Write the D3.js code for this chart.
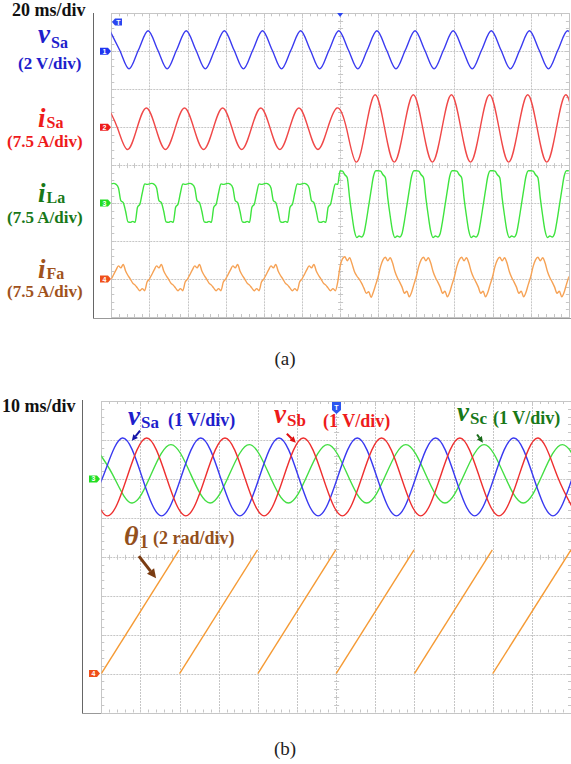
<!DOCTYPE html>
<html>
<head>
<meta charset="utf-8">
<script src="https://cdn.jsdelivr.net/npm/d3@7"></script>
<style>
  html, body { margin: 0; padding: 0; background: #fff; }
  svg { display: block; }
</style>
</head>
<body>
<svg id="chart" width="571" height="764"></svg>
<script>
(function () {
  'use strict';

  // ── Panel (a): 20 ms/div, 12 divisions = 240 ms ──────────────────────────
  // values in physical units
  const vSaA = [   // V, every 5 ms from t = -0.7 ms (peak / zero / trough / zero)
    1.08, 0.08, -0.93, 0.08,  1.08, 0.08, -0.93, 0.08,  1.08, 0.08, -0.93, 0.08,
    1.08, 0.08, -0.93, 0.08,  1.08, 0.08, -0.93, 0.08,  1.08, 0.08, -0.93, 0.08,
    1.08, 0.08, -0.93, 0.08,  1.08, 0.08, -0.93, 0.08,  1.08, 0.08, -0.93, 0.08,
    1.08, 0.08, -0.93, 0.08,  1.08, 0.08, -0.93, 0.08,  1.08, 0.08, -0.93, 0.08,
    1.08, 0.08
  ];
  const iSaA = [   // A, every 5 ms from t = -1.6 ms
    3.8, -0.3, -4.4, -0.3,  3.8, -0.3, -4.4, -0.3,  3.8, -0.3, -4.4, -0.3,
    3.8, -0.3, -4.4, -0.3,  3.8, -0.3, -4.4, -0.3,  3.8, -0.3, -4.4, -0.3,
    3.8,
    -0.3, -6.9, -0.3, 6.4,  -0.3, -6.9, -0.3, 6.4,  -0.3, -6.9, -0.3, 6.4,
    -0.3, -6.9, -0.3, 6.4,  -0.3, -6.9, -0.3, 6.4,  -0.3, -6.9, -0.3, 6.4,
    -0.3
  ];
  const iLaA = [   // A, every 1.25 ms from t = 0
    3.8, 3.9, 3.7, 3.0, 0.5, 0.1, -1.6, -3.7, -3.8, -3.6, -3.8, -0.8, -0.2, 2.0, 3.8, 3.7,
    3.8, 3.9, 3.7, 3.0, 0.5, 0.1, -1.6, -3.7, -3.8, -3.6, -3.8, -0.8, -0.2, 2.0, 3.8, 3.7,
    3.8, 3.9, 3.7, 3.0, 0.5, 0.1, -1.6, -3.7, -3.8, -3.6, -3.8, -0.8, -0.2, 2.0, 3.8, 3.7,
    3.8, 3.9, 3.7, 3.0, 0.5, 0.1, -1.6, -3.7, -3.8, -3.6, -3.8, -0.8, -0.2, 2.0, 3.8, 3.7,
    3.8, 3.9, 3.7, 3.0, 0.5, 0.1, -1.6, -3.7, -3.8, -3.6, -3.8, -0.8, -0.2, 2.0, 3.8, 3.7,
    3.8, 3.9, 3.7, 3.0, 0.5, 0.1, -1.6, -3.7, -3.8, -3.6, -3.8, -0.8, -0.2, 2.0, 3.8, 3.7,
    6.4, 6.3, 5.6, 5.0, 1.0, -2.5, -5.5, -6.8, -6.5, -6.7, -6.0, -3.5, -0.5, 2.5, 5.3, 6.4,
    6.4, 6.3, 5.6, 5.0, 1.0, -2.5, -5.5, -6.8, -6.5, -6.7, -6.0, -3.5, -0.5, 2.5, 5.3, 6.4,
    6.4, 6.3, 5.6, 5.0, 1.0, -2.5, -5.5, -6.8, -6.5, -6.7, -6.0, -3.5, -0.5, 2.5, 5.3, 6.4,
    6.4, 6.3, 5.6, 5.0, 1.0, -2.5, -5.5, -6.8, -6.5, -6.7, -6.0, -3.5, -0.5, 2.5, 5.3, 6.4,
    6.4, 6.3, 5.6, 5.0, 1.0, -2.5, -5.5, -6.8, -6.5, -6.7, -6.0, -3.5, -0.5, 2.5, 5.3, 6.4,
    6.4, 6.3, 5.6, 5.0, 1.0, -2.5, -5.5, -6.8, -6.5, -6.7, -6.0, -3.5, -0.5, 2.5, 5.3, 6.4,
    6.4
  ];
  const iFaA = [   // A, every 1.25 ms from t = 0
    0.0, 0.9, 1.8, 2.6, 2.2, 2.9, 1.6, 0.7, 0.0, -0.8, -1.2, -1.8, -2.3, -1.9, -2.3, -0.6,
    0.0, 0.9, 1.8, 2.6, 2.2, 2.9, 1.6, 0.7, 0.0, -0.8, -1.2, -1.8, -2.3, -1.9, -2.3, -0.6,
    0.0, 0.9, 1.8, 2.6, 2.2, 2.9, 1.6, 0.7, 0.0, -0.8, -1.2, -1.8, -2.3, -1.9, -2.3, -0.6,
    0.0, 0.9, 1.8, 2.6, 2.2, 2.9, 1.6, 0.7, 0.0, -0.8, -1.2, -1.8, -2.3, -1.9, -2.3, -0.6,
    0.0, 0.9, 1.8, 2.6, 2.2, 2.9, 1.6, 0.7, 0.0, -0.8, -1.2, -1.8, -2.3, -1.9, -2.3, -0.6,
    0.0, 0.9, 1.8, 2.6, 2.2, 2.9, 1.6, 0.7, 0.0, -0.8, -1.2, -1.8, -2.3, -1.9, -2.3, -0.6,
    2.5, 4.0, 4.4, 3.6, 4.2, 3.0, 1.5, 0.6, 0.0, -0.8, -1.8, -2.8, -2.5, -3.6, -2.5, -1.0,
    0.5, 2.5, 3.8, 4.3, 3.6, 4.2, 3.2, 1.5, 0.3, -0.6, -1.6, -2.8, -2.4, -3.5, -2.6, -1.0,
    0.5, 2.5, 3.8, 4.3, 3.6, 4.2, 3.2, 1.5, 0.3, -0.6, -1.6, -2.8, -2.4, -3.5, -2.6, -1.0,
    0.5, 2.5, 3.8, 4.3, 3.6, 4.2, 3.2, 1.5, 0.3, -0.6, -1.6, -2.8, -2.4, -3.5, -2.6, -1.0,
    0.5, 2.5, 3.8, 4.3, 3.6, 4.2, 3.2, 1.5, 0.3, -0.6, -1.6, -2.8, -2.4, -3.5, -2.6, -1.0,
    0.5, 2.5, 3.8, 4.3, 3.6, 4.2, 3.2, 1.5, 0.3, -0.6, -1.6, -2.8, -2.4, -3.5, -2.6, -1.0,
    0.5
  ];

  // ── Panel (b): 10 ms/div, 12 divisions = 120 ms ──────────────────────────
  const vSaB = [   // V, every 5 ms from t = -4.6 ms
    -0.95, 0.05, 1.05, 0.05,  -0.95, 0.05, 1.05, 0.05,  -0.95, 0.05, 1.05, 0.05,
    -0.95, 0.05, 1.05, 0.05,  -0.95, 0.05, 1.05, 0.05,  -0.95, 0.05, 1.05, 0.05,
    -0.95, 0.05
  ];
  const vSbB = [   // V, every 5 ms from t = -3.4 ms
    0.05, -0.95, 0.05, 1.05,  0.05, -0.95, 0.05, 1.05,  0.05, -0.95, 0.05, 1.05,
    0.05, -0.95, 0.05, 1.05,  0.05, -0.95, 0.05, 1.05,  0.05, -0.95, 0.05, 1.05,
    0.05, -0.95
  ];
  const vScB = [   // V, every 5 ms from t = -2.2 ms
    0.88, 0.13, -0.62, 0.13,  0.88, 0.13, -0.62, 0.13,  0.88, 0.13, -0.62, 0.13,
    0.88, 0.13, -0.62, 0.13,  0.88, 0.13, -0.62, 0.13,  0.88, 0.13, -0.62, 0.13,
    0.88, 0.13
  ];
  // θ1 ramps: start / end of each ramp (ms, rad)
  const thetaT = [0, 19.9, 20, 39.9, 40, 59.9, 60, 79.9, 80, 99.9, 100, 120];
  const thetaV = [0, 6.35, 0, 6.35, 0, 6.35, 0, 6.35, 0, 6.35, 0, 6.35];

  // ── Styling ──────────────────────────────────────────────────────────────
  const FONT = '"Liberation Serif", "Times New Roman", serif';
  const GRID = '#c6c6c6';
  const svg = d3.select('#chart');
  const px = v => Math.round(v) + 0.5;

  // ── Graticule ────────────────────────────────────────────────────────────
  function graticule(g, gx, gy, nx, ny) {
    const [x0, x1] = gx.range(), [y0, y1] = gy.range();
    g.append('g').selectAll('line').data(d3.range(1, nx)).join('line')
      .attr('x1', d => px(gx(d))).attr('x2', d => px(gx(d)))
      .attr('y1', y0).attr('y2', y1)
      .attr('stroke', GRID).attr('stroke-dasharray', '2,1');
    g.append('g').selectAll('line').data(d3.range(1, ny)).join('line')
      .attr('y1', d => px(gy(d))).attr('y2', d => px(gy(d)))
      .attr('x1', x0).attr('x2', x1)
      .attr('stroke', GRID).attr('stroke-dasharray', '2,1');
    g.append('rect')
      .attr('x', px(x0)).attr('y', px(y0))
      .attr('width', Math.round(x1) - Math.round(x0)).attr('height', Math.round(y1) - Math.round(y0))
      .attr('fill', 'none').attr('stroke', GRID);

    // minor ticks every 1/5 div on the border and the centre cross
    const mx = d3.range(1, nx * 5).map(i => i / 5);
    const my = d3.range(1, ny * 5).map(i => i / 5);
    const xc = gx(nx / 2), yc = gy(ny / 2);
    const tk = g.append('g').attr('stroke', GRID);
    mx.forEach(d => {
      const x = px(gx(d));
      tk.append('line').attr('x1', x).attr('x2', x).attr('y1', y0).attr('y2', y0 + 3);
      tk.append('line').attr('x1', x).attr('x2', x).attr('y1', y1 - 3).attr('y2', y1);
      tk.append('line').attr('x1', x).attr('x2', x).attr('y1', yc - 2).attr('y2', yc + 3);
    });
    my.forEach(d => {
      const y = px(gy(d));
      tk.append('line').attr('y1', y).attr('y2', y).attr('x1', x0).attr('x2', x0 + 3);
      tk.append('line').attr('y1', y).attr('y2', y).attr('x1', x1 - 3).attr('x2', x1);
      tk.append('line').attr('y1', y).attr('y2', y).attr('x1', xc - 2).attr('x2', xc + 3);
    });
  }

  function frame(x, yTop, yBot) {
    svg.append('line').attr('x1', px(x)).attr('x2', px(x)).attr('y1', yTop).attr('y2', yBot + 1)
      .attr('stroke', '#666');
    svg.append('line').attr('x1', x).attr('x2', 571).attr('y1', px(yBot)).attr('y2', px(yBot))
      .attr('stroke', '#999');
  }

  function clipFor(id, gx, gy) {
    const [x0, x1] = gx.range(), [y0, y1] = gy.range();
    svg.append('clipPath').attr('id', id).append('rect')
      .attr('x', x0).attr('y', y0).attr('width', x1 - x0).attr('height', y1 - y0);
    return svg.append('g').attr('clip-path', `url(#${id})`);
  }

  function trace(g, tx, gy, tr) {
    const pts = tr.values.map((v, i) => [tr.t0 + i * tr.dt, v]);
    const line = d3.line()
      .x(d => tx(d[0]))
      .y(d => gy(tr.ch - d[1] / tr.perDiv))
      .curve(tr.curve);
    g.append('path').datum(pts).attr('d', line)
      .attr('fill', 'none').attr('stroke', tr.color)
      .attr('stroke-width', tr.width || 1.4).attr('stroke-linejoin', 'round');
  }

  // ── Channel / trigger tags ───────────────────────────────────────────────
  function chTag(xr, yc, color, label) {
    svg.append('path')
      .attr('d', `M${xr - 11},${yc - 3.5}H${xr - 3}L${xr},${yc}L${xr - 3},${yc + 3.5}H${xr - 11}Z`)
      .attr('fill', color);
    svg.append('text').attr('x', xr - 6.5).attr('y', yc + 2.6).attr('text-anchor', 'middle')
      .attr('fill', '#fff').style('font', 'bold 7px Arial, "Liberation Sans", sans-serif').text(label);
  }
  function trigLeft(x, yc) {
    svg.append('path').attr('d', `M${x},${yc}L${x + 3},${yc - 3.5}H${x + 10}V${yc + 3.5}H${x + 3}Z`)
      .attr('fill', '#2b45f0');
    svg.append('text').attr('x', x + 6.5).attr('y', yc + 2.5).attr('text-anchor', 'middle')
      .attr('fill', '#fff').style('font', 'bold 7px "Liberation Sans", sans-serif').text('T');
  }
  function trigDown(xc, yTop) {
    svg.append('path')
      .attr('d', `M${xc - 4.5},${yTop}H${xc + 4.5}V${yTop + 8}L${xc},${yTop + 12}L${xc - 4.5},${yTop + 8}Z`)
      .attr('fill', '#2b55f0');
    svg.append('text').attr('x', xc).attr('y', yTop + 8).attr('text-anchor', 'middle')
      .attr('fill', '#fff').style('font', 'bold 7px "Liberation Sans", sans-serif').text('T');
  }

  // ── Text helpers ─────────────────────────────────────────────────────────
  function text(x, y, str, color, size) {
    return svg.append('text').attr('x', x).attr('y', y).attr('fill', color)
      .style('font-family', FONT).style('font-weight', 'bold').style('font-size', size + 'px')
      .text(str);
  }
  function symbol(x, y, main, sub, color, o) {
    const t = svg.append('text').attr('x', x).attr('y', y).attr('fill', color)
      .style('font-family', FONT).style('font-weight', 'bold');
    t.append('tspan').text(main).style('font-style', 'italic').style('font-size', o.main + 'px');
    t.append('tspan').text(sub).attr('dx', o.dx || 1).attr('dy', o.dy)
      .style('font-size', o.sub + 'px');
  }
  function arrow(x1, y1, x2, y2, color, w, head) {
    const a = Math.atan2(y2 - y1, x2 - x1);
    const bx = x2 - head * Math.cos(a), by = y2 - head * Math.sin(a);
    const nx = -Math.sin(a) * head * 0.5, ny = Math.cos(a) * head * 0.5;
    svg.append('line').attr('x1', x1).attr('y1', y1).attr('x2', bx).attr('y2', by)
      .attr('stroke', color).attr('stroke-width', w);
    svg.append('path').attr('d', `M${x2},${y2}L${bx + nx},${by + ny}L${bx - nx},${by - ny}Z`)
      .attr('fill', color);
  }

  // ══ Panel (a) ════════════════════════════════════════════════════════════
  const txA = d3.scaleLinear().domain([0, 240]).range([111.3, 568.9]);
  const gxA = d3.scaleLinear().domain([0, 12]).range([111.3, 568.9]);
  const gyA = d3.scaleLinear().domain([0, 8]).range([13.3, 317]);

  frame(93, 13, 318);
  graticule(svg.append('g'), gxA, gyA, 12, 8);
  const plotA = clipFor('clipA', gxA, gyA);
  [
    { values: vSaA, t0: -0.7, dt: 5,    ch: 1, perDiv: 2,   color: '#3b3bf0', curve: d3.curveMonotoneX },
    { values: iSaA, t0: -1.6, dt: 5,    ch: 3, perDiv: 7.5, color: '#f04848', curve: d3.curveNatural },
    { values: iLaA, t0: 0,    dt: 1.25, ch: 5, perDiv: 7.5, color: '#3fe43f', curve: d3.curveMonotoneX },
    { values: iFaA, t0: 0,    dt: 1.25, ch: 7, perDiv: 7.5, color: '#f6a255', curve: d3.curveMonotoneX }
  ].forEach(tr => trace(plotA, txA, gyA, tr));

  chTag(111, gyA(1), '#2036f0', '1');
  chTag(111, gyA(3), '#ee1c1c', '2');
  chTag(111, gyA(5), '#22dd22', '3');
  chTag(111, gyA(7), '#f0501a', '4');
  trigLeft(112, 22);
  svg.append('path').attr('d', `M${gxA(6) - 3},13L${gxA(6) + 3},13L${gxA(6)},17Z`).attr('fill', '#2b45f0');

  text(12, 16, '20 ms/div', '#111', 18);
  symbol(38, 43, 'v', 'Sa', '#1e1ecc', { main: 27, sub: 16, dy: 5 });
  text(18, 69, '(2 V/div)', '#1e1ecc', 17);
  symbol(38, 127, 'i', 'Sa', '#ee1b1b', { main: 27, sub: 16, dy: 1 });
  text(7, 147, '(7.5 A/div)', '#ee1b1b', 17);
  symbol(38, 202, 'i', 'La', '#187818', { main: 27, sub: 16, dy: 1 });
  text(7, 223, '(7.5 A/div)', '#187818', 17);
  symbol(38, 278, 'i', 'Fa', '#a0521c', { main: 27, sub: 16, dy: 1 });
  text(7, 297, '(7.5 A/div)', '#a0521c', 17);

  svg.append('text').attr('x', 285).attr('y', 365).attr('text-anchor', 'middle')
    .style('font', '19px "Liberation Serif", serif').attr('fill', '#222').text('(a)');

  // ══ Panel (b) ════════════════════════════════════════════════════════════
  const txB = d3.scaleLinear().domain([0, 120]).range([101.3, 571]);
  const gxB = d3.scaleLinear().domain([0, 12]).range([101.3, 571]);
  const gyB = d3.scaleLinear().domain([0, 8]).range([401, 712.5]);

  frame(82, 400, 713);
  graticule(svg.append('g'), gxB, gyB, 12, 8);
  const plotB = clipFor('clipB', gxB, gyB);
  [
    { values: vScB, t0: -2.2, dt: 5, ch: 2, perDiv: 1, color: '#44de44', curve: d3.curveNatural },
    { values: vSaB, t0: -4.6, dt: 5, ch: 2, perDiv: 1, color: '#3a3af0', curve: d3.curveNatural },
    { values: vSbB, t0: -3.4, dt: 5, ch: 2, perDiv: 1, color: '#ee3030', curve: d3.curveNatural }
  ].forEach(tr => trace(plotB, txB, gyB, tr));

  const thetaLine = d3.line().x(d => txB(d[0])).y(d => gyB(7 - d[1] / 2));
  d3.range(0, thetaT.length, 2).forEach(i => {
    plotB.append('path')
      .datum([[thetaT[i], thetaV[i]], [thetaT[i + 1], thetaV[i + 1]]])
      .attr('d', thetaLine).attr('fill', 'none')
      .attr('stroke', '#f59a34').attr('stroke-width', 1.4);
  });

  chTag(100, gyB(2), '#22dd22', '3');
  chTag(100, gyB(7), '#f0501a', '4');
  trigDown(336.5, 402);

  text(2, 412, '10 ms/div', '#111', 18);
  symbol(128, 425, 'v', 'Sa', '#1e1ecc', { main: 27, sub: 17, dy: 3 });
  text(168, 426, '(1 V/div)', '#1e1ecc', 18);
  symbol(274, 423, 'v', 'Sb', '#ee1b1b', { main: 27, sub: 17, dy: 3 });
  text(323, 427, '(1 V/div)', '#ee1b1b', 18);
  symbol(457, 421, 'v', 'Sc', '#187818', { main: 27, sub: 17, dy: 3 });
  text(493, 424, '(1 V/div)', '#187818', 18);
  symbol(124, 545, 'θ', '1', '#93501c', { main: 28, sub: 18, dy: 3 });
  text(153, 544, '(2 rad/div)', '#93501c', 18);

  // arrows pointing at the traces (data coordinates: ms, value)
  const vB = v => gyB(2 - v), thB = r => gyB(7 - r / 2);
  arrow(txB(9.9), vB(1.24), txB(7.8), vB(0.98), '#1414a8', 2, 6);
  arrow(txB(47.4), vB(1.16), txB(49.7), vB(0.93), '#e01010', 2, 6);
  arrow(txB(96.0), vB(1.14), txB(97.5), vB(0.93), '#176a17', 2, 6);
  arrow(txB(9.6), thB(6.03), txB(14.0), thB(4.9), '#7a3c12', 3, 9);

  svg.append('text').attr('x', 285).attr('y', 755).attr('text-anchor', 'middle')
    .style('font', '19px "Liberation Serif", serif').attr('fill', '#222').text('(b)');
})();
</script>
</body>
</html>
